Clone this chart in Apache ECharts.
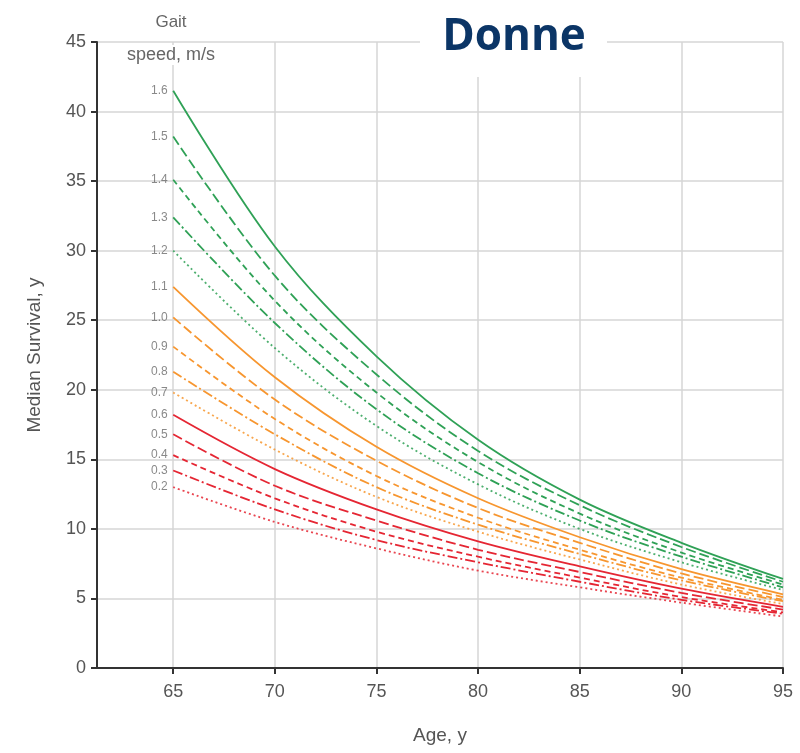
<!DOCTYPE html>
<html>
<head>
<meta charset="utf-8">
<script src="https://cdn.jsdelivr.net/npm/echarts@6/dist/echarts.min.js"></script>
<style>
html,body{margin:0;padding:0;background:#fff;}
#chart{width:800px;height:753px;}
</style>
</head>
<body>
<div id="chart"></div>
<script>
// Ages (x) and tick labels
const ages = [65, 70, 75, 80, 85, 90, 95];
const xTicks = [65, 70, 75, 80, 85, 90, 95];
const yTicks = [0, 5, 10, 15, 20, 25, 30, 35, 40, 45];
const speeds = ['1.6', '1.5', '1.4', '1.3', '1.2', '1.1', '1.0', '0.9', '0.8', '0.7', '0.6', '0.5', '0.4', '0.3', '0.2'];

// Median survival (years) read at ages 65..95
const s16 = [41.5, 30.3, 22.4, 16.4, 12.1, 9.0, 6.4];
const s15 = [38.2, 28.2, 21.1, 15.6, 11.7, 8.7, 6.2];
const s14 = [35.1, 26.4, 19.8, 14.8, 11.1, 8.3, 6.0];
const s13 = [32.4, 24.8, 18.6, 14.0, 10.6, 8.0, 5.8];
const s12 = [30.0, 23.0, 17.4, 13.2, 10.0, 7.6, 5.6];
const s11 = [27.4, 20.9, 15.9, 12.2, 9.4, 7.1, 5.3];
const s10 = [25.2, 19.3, 14.9, 11.5, 9.0, 6.8, 5.1];
const s09 = [23.1, 17.9, 13.8, 10.8, 8.5, 6.5, 4.9];
const s08 = [21.3, 16.8, 13.0, 10.3, 8.2, 6.3, 4.8];
const s07 = [19.8, 15.7, 12.3, 9.8, 7.8, 6.0, 4.6];
const s06 = [18.2, 14.3, 11.4, 9.1, 7.3, 5.7, 4.4];
const s05 = [16.8, 13.1, 10.6, 8.5, 6.9, 5.4, 4.2];
const s04 = [15.3, 12.2, 9.8, 8.0, 6.5, 5.1, 4.0];
const s03 = [14.2, 11.4, 9.2, 7.6, 6.2, 4.9, 3.9];
const s02 = [13.0, 10.5, 8.6, 7.0, 5.8, 4.7, 3.7];

const seriesValues = [s16, s15, s14, s13, s12, s11, s10, s09, s08, s07, s06, s05, s04, s03, s02];

const GREEN = '#2fa156', ORANGE = '#f7962f', RED = '#e52633';
const groupColors = [GREEN, ORANGE, RED];
const dashStyles = ['solid', [10, 4], [6, 4], [10, 3, 2, 3], [2, 3]];

const chart = echarts.init(document.getElementById('chart'), null, {renderer: 'canvas'});

const series = seriesValues.map((vals, i) => ({
  name: speeds[i],
  type: 'line',
  data: ages.map((a, k) => [a, vals[k]]),
  smooth: 0.35,
  showSymbol: false,
  symbol: 'none',
  silent: true,
  lineStyle: {
    color: groupColors[Math.floor(i / 5)],
    width: 1.8,
    type: dashStyles[i % 5],
    opacity: (i % 5 === 4) ? 0.85 : 1
  },
  z: 3
}));

const FONT = '"Liberation Sans Narrow", "Liberation Sans", Arial, sans-serif';

series.push({
  name: 'labels',
  type: 'scatter',
  symbolSize: 1,
  silent: true,
  itemStyle: {color: 'rgba(0,0,0,0)'},
  data: seriesValues.map((vals, i) => ({value: [ages[0], vals[0]], name: speeds[i]})),
  label: {
    show: true,
    position: 'left',
    distance: 5,
    formatter: p => p.name,
    fontFamily: FONT,
    fontSize: 12,
    color: '#6b6b6b'
  },
  z: 4
});

chart.setOption({
  animation: false,
  backgroundColor: '#fff',
  grid: {left: 97, right: 17, top: 42, bottom: 85, containLabel: false},
  xAxis: {
    type: 'value',
    min: 61.25,
    max: 95,
    name: 'Age, y',
    nameLocation: 'middle',
    nameGap: 58,
    nameTextStyle: {fontFamily: FONT, fontSize: 19, color: '#555'},
    axisLine: {show: true, onZero: false, lineStyle: {color: '#333', width: 2}},
    axisTick: {show: true, customValues: xTicks, length: 6, lineStyle: {color: '#333', width: 2}},
    axisLabel: {customValues: xTicks, fontFamily: FONT, fontSize: 18, color: '#555', margin: 15},
    splitLine: {show: true, lineStyle: {color: '#d6d6d6', width: 1.5}}
  },
  yAxis: {
    type: 'value',
    min: 0,
    max: 45,
    interval: 5,
    name: 'Median Survival, y',
    nameLocation: 'middle',
    nameGap: 53,
    nameTextStyle: {fontFamily: FONT, fontSize: 19, color: '#555'},
    axisLine: {show: true, lineStyle: {color: '#333', width: 2}},
    axisTick: {show: true, length: 6, lineStyle: {color: '#333', width: 2}},
    axisLabel: {fontFamily: FONT, fontSize: 18, color: '#555', margin: 11},
    splitLine: {show: true, lineStyle: {color: '#d6d6d6', width: 1.5}}
  },
  series: series,
  graphic: [
    {type: 'rect', shape: {x: 420, y: 0, width: 187, height: 77}, style: {fill: '#fff'}, z: 100, silent: true},
    {type: 'text', x: 514, y: 37, z: 101, silent: true,
     style: {text: 'Donne', fontFamily: '"Open Sans", "Noto Sans", sans-serif', fontWeight: 'bold', fontSize: 44, fill: '#0b3566', align: 'center', verticalAlign: 'middle'}},
    {type: 'text', x: 171, y: 22, z: 101, silent: true,
     style: {text: 'Gait', fontFamily: FONT, fontSize: 17, fill: '#666', align: 'center', verticalAlign: 'middle'}},
    {type: 'text', x: 171, y: 55, z: 101, silent: true,
     style: {text: 'speed, m/s', fontFamily: FONT, fontSize: 18, fill: '#666', align: 'center', verticalAlign: 'middle', backgroundColor: '#fff', padding: [1, 2]}}
  ]
});
</script>
</body>
</html>
